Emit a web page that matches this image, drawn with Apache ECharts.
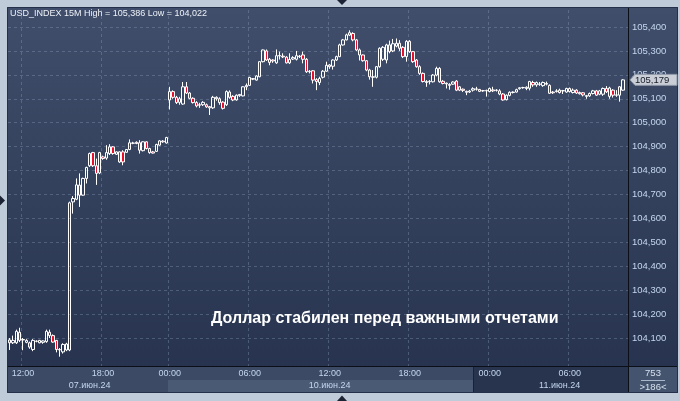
<!DOCTYPE html>
<html><head><meta charset="utf-8">
<script src="https://cdn.jsdelivr.net/npm/echarts@6/dist/echarts.min.js"></script>
<style>html,body{margin:0;padding:0;background:#bfcbd9}#c{width:680px;height:401px}</style>
</head><body><div id="c"></div>
<script>
// ---- sessions (15-minute bars) ----
const sessions = [
  { date: '07.июн.24', startHour: 11, bars: 48 },
  { date: '10.июн.24', startHour: 0, bars: 96 },
  { date: '11.июн.24', startHour: 0, bars: 42 }
];
const totalBars = 753;
const titleText = 'USD_INDEX 15M High = 105,386 Low = 104,022';
const captionText = 'Доллар стабилен перед важными отчетами';
const yTicks = [104.1,104.2,104.3,104.4,104.5,104.6,104.7,104.8,104.9,105.0,105.1,105.2,105.3,105.4];

const opens = [
104.092,104.080,104.080,104.124,104.092,104.082,104.080,104.052,104.086,104.080,
104.082,104.085,104.124,104.110,104.090,104.052,104.042,104.050,104.050,104.669,
104.680,104.739,104.697,104.767,104.820,104.875,104.820,104.790,104.857,104.852,
104.871,104.899,104.868,104.878,104.878,104.876,104.888,104.914,104.918,104.916,
104.883,104.920,104.892,104.878,104.880,104.906,104.923,104.915,
105.095,105.130,105.106,105.085,105.078,105.150,105.124,105.102,105.084,105.075,
105.075,105.075,105.067,105.062,105.100,105.100,105.086,105.075,105.128,105.110,
105.095,105.113,105.112,105.150,105.156,105.184,105.178,105.192,105.255,105.300,
105.265,105.262,105.250,105.279,105.278,105.274,105.250,105.266,105.265,105.278,
105.283,105.265,105.213,105.217,105.180,105.168,105.190,105.215,105.241,105.236,
105.262,105.276,105.325,105.346,105.366,105.373,105.346,105.304,105.283,105.259,
105.220,105.190,105.190,105.234,105.265,105.262,105.325,105.300,105.320,105.332,
105.315,105.276,105.340,105.297,105.262,105.234,105.206,105.168,105.171,105.171,
105.199,105.227,105.173,105.162,105.160,105.161,105.174,105.150,105.140,105.131,
105.128,105.136,105.141,105.139,105.133,105.133,105.130,105.137,105.135,105.133,
105.120,105.096,105.114,105.126,105.128,105.142,105.147,105.143,105.144,105.168,
105.158,105.162,105.155,105.164,105.156,105.128,105.130,105.136,105.133,105.128,
105.143,105.126,105.136,105.126,105.125,105.110,105.112,105.122,105.133,105.119,
105.119,105.143,105.110,105.136,105.115,105.115,105.136
];
const closes = [
104.080,104.090,104.128,104.090,104.094,104.090,104.062,104.090,104.087,104.090,
104.088,104.128,104.110,104.083,104.052,104.050,104.073,104.075,104.665,104.683,
104.740,104.697,104.767,104.813,104.871,104.820,104.788,104.875,104.850,104.875,
104.899,104.871,104.878,104.836,104.836,104.888,104.916,104.915,104.913,104.885,
104.920,104.892,104.875,104.873,104.909,104.924,104.920,104.938,
105.130,105.106,105.084,105.100,105.150,105.124,105.102,105.084,105.070,105.073,
105.085,105.066,105.062,105.106,105.106,105.084,105.060,105.130,105.106,105.095,
105.115,105.118,105.150,105.156,105.189,105.182,105.195,105.255,105.304,105.262,
105.252,105.258,105.280,105.281,105.275,105.250,105.264,105.272,105.280,105.276,
105.265,105.213,105.215,105.178,105.172,105.185,105.215,105.240,105.234,105.262,
105.276,105.325,105.346,105.367,105.376,105.346,105.304,105.283,105.259,105.220,
105.192,105.192,105.234,105.311,105.315,105.325,105.297,105.330,105.332,105.311,
105.276,105.340,105.297,105.255,105.234,105.206,105.172,105.172,105.173,105.199,
105.227,105.171,105.164,105.165,105.156,105.170,105.136,105.136,105.135,105.127,
105.132,105.142,105.140,105.131,105.134,105.135,105.143,105.133,105.136,105.120,
105.095,105.115,105.127,105.128,105.138,105.146,105.146,105.148,105.172,105.158,
105.168,105.160,105.168,105.161,105.123,105.125,105.133,105.126,105.134,105.143,
105.130,105.136,105.124,105.121,105.116,105.113,105.122,105.133,105.115,105.133,
105.143,105.129,105.145,105.115,105.116,105.150,105.179
];
const lows = [
104.050,104.075,104.075,104.083,104.049,104.078,104.055,104.045,104.082,104.078,
104.076,104.080,104.100,104.080,104.040,104.022,104.035,104.045,104.045,104.620,
104.676,104.648,104.695,104.746,104.815,104.815,104.740,104.785,104.845,104.845,
104.865,104.866,104.865,104.832,104.822,104.874,104.885,104.910,104.910,104.871,
104.880,104.888,104.870,104.871,104.878,104.904,104.916,104.913,
105.055,105.100,105.078,105.075,105.075,105.120,105.098,105.080,105.064,105.062,
105.070,105.062,105.032,105.058,105.092,105.075,105.055,105.070,105.100,105.090,
105.092,105.108,105.110,105.136,105.154,105.178,105.176,105.190,105.252,105.258,
105.240,105.250,105.246,105.264,105.270,105.247,105.245,105.262,105.260,105.270,
105.248,105.208,105.206,105.164,105.136,105.157,105.185,105.213,105.225,105.222,
105.258,105.274,105.322,105.344,105.362,105.340,105.300,105.260,105.255,105.215,
105.180,105.150,105.185,105.230,105.258,105.248,105.290,105.295,105.315,105.300,
105.270,105.255,105.292,105.250,105.230,105.200,105.168,105.150,105.160,105.168,
105.194,105.167,105.160,105.143,105.138,105.158,105.132,105.132,105.128,105.115,
105.124,105.130,105.134,105.128,105.129,105.109,105.127,105.128,105.130,105.115,
105.092,105.093,105.110,105.122,105.126,105.138,105.142,105.136,105.135,105.150,
105.150,105.154,105.150,105.156,105.120,105.120,105.126,105.122,105.120,105.125,
105.126,105.122,105.120,105.118,105.110,105.100,105.108,105.118,105.112,105.115,
105.112,105.124,105.100,105.105,105.108,105.088,105.133
];
const highs = [
104.100,104.110,104.135,104.143,104.100,104.095,104.085,104.095,104.090,104.092,
104.090,104.135,104.135,104.115,104.092,104.058,104.078,104.080,104.670,104.693,
104.767,104.788,104.770,104.816,104.875,104.878,104.850,104.878,104.862,104.906,
104.910,104.902,104.880,104.880,104.885,104.890,104.930,104.920,104.922,104.927,
104.922,104.922,104.895,104.882,104.912,104.927,104.927,104.941,
105.150,105.135,105.112,105.108,105.170,105.170,105.128,105.106,105.090,105.083,
105.090,105.080,105.070,105.112,105.110,105.106,105.090,105.135,105.135,105.115,
105.118,105.120,105.152,105.164,105.192,105.186,105.198,105.257,105.306,105.306,
105.270,105.265,105.306,105.297,105.290,105.278,105.290,105.278,105.300,105.283,
105.297,105.270,105.220,105.220,105.186,105.192,105.220,105.255,105.245,105.265,
105.280,105.330,105.350,105.372,105.386,105.378,105.350,105.310,105.285,105.262,
105.225,105.220,105.237,105.315,105.320,105.330,105.343,105.350,105.352,105.345,
105.320,105.345,105.345,105.300,105.266,105.240,105.210,105.178,105.178,105.203,
105.234,105.232,105.178,105.168,105.165,105.173,105.178,105.152,105.143,105.134,
105.137,105.148,105.150,105.141,105.137,105.138,105.147,105.150,105.140,105.140,
105.124,105.118,105.131,105.131,105.142,105.148,105.150,105.152,105.175,105.175,
105.172,105.170,105.172,105.172,105.160,105.132,105.140,105.142,105.137,105.146,
105.147,105.143,105.140,105.130,105.128,105.116,105.126,105.137,105.137,105.137,
105.147,105.153,105.150,105.140,105.136,105.153,105.182
];

// ---- build categories from sessions ----
const categories = [];
const catDate = [];
const dateLabelIdx = {};
sessions.forEach(s => {
  const start = categories.length;
  dateLabelIdx[start + Math.floor(s.bars / 2)] = s.date;
  for (let k = 0; k < s.bars; k++) {
    const m = s.startHour * 60 + k * 15;
    const hh = String(Math.floor(m / 60)).padStart(2, '0');
    const mm = String(m % 60).padStart(2, '0');
    categories.push(hh + ':' + mm);
    catDate.push(s.date);
  }
});
const isMajor = i => { const [h, m] = categories[i].split(':').map(Number); return m === 0 && h % 6 === 0; };
const dimFrom = 140;
const candles = opens.map((o, i) => [o, closes[i], lows[i], highs[i]]);

const FONT = '"Liberation Sans", Arial, sans-serif';
const labelColor = '#c4d6ef';
const dimColor = '#7f8ca3';

const chart = echarts.init(document.getElementById('c'), null, { renderer: 'canvas' });

const staticGraphics = [
  { id: 'panel', type: 'rect', z: -10, shape: { x: 7.5, y: 7.5, width: 670, height: 385 },
    style: { fill: new echarts.graphic.LinearGradient(0, 0, 0, 1, [{ offset: 0, color: '#404e6b' }, { offset: 1, color: '#26324d' }]), stroke: '#243049', lineWidth: 1 } },
  { id: 'strip', type: 'rect', z: -9, shape: { x: 8, y: 367, width: 620, height: 25 }, style: { fill: '#3c4a66' } },
  { id: 'moncell', type: 'rect', z: -8, shape: { x: 168, y: 380, width: 305, height: 12 }, style: { fill: '#4a5974' } },
  { id: 'dim', type: 'rect', z: -7, shape: { x: 473, y: 367, width: 155, height: 25 }, style: { fill: '#28344e' } },
  { id: 'dimline', type: 'line', z: -6, shape: { x1: 473.5, y1: 367, x2: 473.5, y2: 392 }, style: { stroke: '#1a2236', lineWidth: 1 } },
  { id: 'corner', type: 'rect', z: -8, shape: { x: 629, y: 367, width: 48, height: 25 }, style: { fill: '#45546e' } },
  { id: 'vline', type: 'line', z: 20, shape: { x1: 628.5, y1: 8, x2: 628.5, y2: 392 }, style: { stroke: '#0b0f18', lineWidth: 1 } },
  { id: 'hline', type: 'line', z: 20, shape: { x1: 8, y1: 366.5, x2: 677, y2: 366.5 }, style: { stroke: '#0b0f18', lineWidth: 1 } },
  { id: 'cnt1', type: 'text', z: 20, style: { x: 653, y: 373.5, text: String(totalBars), fill: '#d6e0ee', font: '9.5px ' + FONT, textAlign: 'center', textVerticalAlign: 'middle' } },
  { id: 'cntsep', type: 'line', z: 20, shape: { x1: 641, y1: 380.5, x2: 665, y2: 380.5 }, style: { stroke: '#aab7ca', lineWidth: 1 } },
  { id: 'cnt2', type: 'text', z: 20, style: { x: 653, y: 387, text: '>' + categories.length + '<', fill: '#d6e0ee', font: '9.5px ' + FONT, textAlign: 'center', textVerticalAlign: 'middle' } },
  { id: 'triT', type: 'polygon', z: 20, shape: { points: [[337, 0], [347, 0], [342, 5]] }, style: { fill: '#1b2334' } },
  { id: 'triB', type: 'polygon', z: 20, shape: { points: [[337, 401], [347, 401], [342, 395.5]] }, style: { fill: '#1b2334' } },
  { id: 'triL', type: 'polygon', z: 20, shape: { points: [[0, 195.5], [0, 205.5], [5, 200.5]] }, style: { fill: '#1b2334' } }
];

chart.setOption({
  animation: false,
  backgroundColor: '#bfcbd9',
  textStyle: { fontFamily: FONT },
  title: [
    { text: titleText, left: 10, top: 9.5, padding: 0, textStyle: { color: '#eef2f8', fontSize: 9, fontWeight: 'normal', fontFamily: FONT } },
    { text: captionText, left: 211, top: 311, padding: 0, textStyle: { color: '#ffffff', fontSize: 16, fontWeight: 'bold', fontFamily: FONT } }
  ],
  grid: { left: 8, right: 52, top: 10, bottom: 35, containLabel: false },
  xAxis: [
    { type: 'category', data: categories, boundaryGap: true,
      axisLine: { show: false }, axisTick: { show: false },
      axisLabel: { interval: (i) => isMajor(i), margin: 3, fontSize: 9, fontFamily: FONT,
        color: (v, i) => (i >= dimFrom ? dimColor : labelColor) },
      splitLine: { show: true, interval: (i) => isMajor(i), lineStyle: { color: 'rgba(150,170,200,0.32)', type: [3, 3], width: 1 } } },
    { type: 'category', data: categories, boundaryGap: true, position: 'bottom', offset: 12,
      axisLine: { show: false }, axisTick: { show: false }, splitLine: { show: false },
      axisLabel: { interval: (i) => dateLabelIdx[i] !== undefined, margin: 3, fontSize: 9, fontFamily: FONT,
        formatter: (v, i) => dateLabelIdx[i] || '',
        color: (v, i) => (i >= dimFrom ? dimColor : labelColor) } }
  ],
  yAxis: {
    type: 'value', position: 'right', min: 103.983, max: 105.471, scale: true,
    axisLine: { show: false },
    axisTick: { show: false, customValues: yTicks },
    axisLabel: { customValues: yTicks, color: labelColor, fontSize: 9.5, margin: 4, fontFamily: FONT,
      formatter: v => v.toFixed(3).replace('.', ',') },
    splitLine: { show: true, lineStyle: { color: 'rgba(150,170,200,0.32)', type: [3, 3], width: 1 } }
  },
  series: [{
    type: 'candlestick', data: candles, barWidth: 3,
    itemStyle: { color: 'rgba(0,0,0,0)', color0: '#e4102c', borderColor: '#ffffff', borderColor0: '#ffffff', borderWidth: 1 }
  }],
  graphic: { elements: staticGraphics }
});

// price tag at last close, positioned through the y-axis scale
const lastClose = closes[closes.length - 1];
const py = chart.convertToPixel({ yAxisIndex: 0 }, lastClose);
const x0 = 630, x1 = 677, hh = 5.5;
chart.setOption({
  graphic: { elements: staticGraphics.concat([
    { id: 'tag', type: 'polygon', z: 30, shape: { points: [[x0, py], [x0 + 5, py - hh], [x1, py - hh], [x1, py + hh], [x0 + 5, py + hh]] },
      style: { fill: '#c9ced7', stroke: '#8e97a6', lineWidth: 1 } },
    { id: 'tagtxt', type: 'text', z: 31, style: { x: x0 + 5, y: py + 0.5, text: lastClose.toFixed(3).replace('.', ','), fill: '#141a26', font: '9.5px ' + FONT, textVerticalAlign: 'middle' } }
  ]) }
});
</script>
</body></html>
